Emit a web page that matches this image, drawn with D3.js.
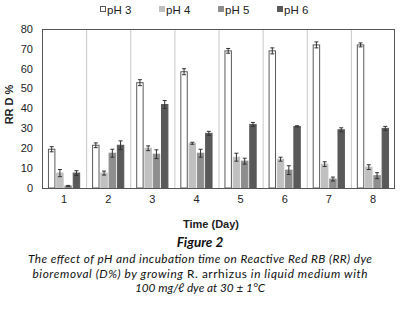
<!DOCTYPE html>
<html>
<head>
<meta charset="utf-8">
<script src="https://cdn.jsdelivr.net/npm/d3@7"></script>
<style>
  body { margin: 0; background: #fff; }
  svg { display: block; }
</style>
</head>
<body>
<svg id="chart" width="400" height="309"></svg>
<script>
// data
const days = ['1', '2', '3', '4', '5', '6', '7', '8'];
const seriesNames = ['pH 3', 'pH 4', 'pH 5', 'pH 6'];
const ph3 = [19.5, 21.5, 53, 58.5, 69, 69, 72, 72];
const ph4 = [7.5, 7.5, 20, 22.5, 15.5, 14.5, 12, 10.5];
const ph5 = [1, 17.5, 17, 17.5, 13.5, 9, 4.5, 6.2];
const ph6 = [7.5, 21.5, 42, 27.5, 32, 31, 29.3, 30];
const ph3Err = [1.3, 1.2, 1.5, 1.5, 1.2, 1.5, 1.5, 1];
const ph4Err = [1.8, 1, 1.2, 0.5, 2, 1, 1.2, 1.2];
const ph5Err = [0.3, 2, 2.2, 2, 1.5, 2.2, 1, 1.5];
const ph6Err = [1.2, 2.2, 2, 1, 1, 0.3, 1, 1];
const yTicks = [0, 10, 20, 30, 40, 50, 60, 70, 80];

const values = [ph3, ph4, ph5, ph6];
const errors = [ph3Err, ph4Err, ph5Err, ph6Err];
const fills = ['#ffffff', '#c0c0c0', '#8e8e8e', '#595959'];
const strokes = ['#5a5a5a', '#c0c0c0', '#8e8e8e', '#595959'];

const svg = d3.select('#chart');
const margin = { left: 42, right: 5, top: 29, bottom: 121 };
const W = 400, H = 309;
const axisFont = 'Liberation Sans, Arial, sans-serif';

const x0 = d3.scaleBand()
    .domain(days)
    .range([margin.left, W - margin.right]);

const groupW = x0.bandwidth() * 0.73;
const x1 = d3.scaleBand()
    .domain(seriesNames)
    .range([(x0.bandwidth() - groupW) / 2, (x0.bandwidth() + groupW) / 2])
    .paddingInner(0.1);

const y = d3.scaleLinear()
    .domain([0, 80])
    .range([H - margin.bottom, margin.top]);

// 分隔线
svg.append('g')
    .selectAll('line')
    .data(days.slice(1))
    .join('line')
    .attr('x1', d => x0(d) + 0.5)
    .attr('x2', d => x0(d) + 0.5)
    .attr('y1', y(80))
    .attr('y2', y(0))
    .attr('stroke', '#c8c8c8')
    .attr('stroke-width', 1);

// y tick labels
svg.append('g')
    .selectAll('text')
    .data(yTicks)
    .join('text')
    .attr('x', margin.left - 9)
    .attr('y', d => y(d))
    .attr('dy', '0.35em')
    .attr('text-anchor', 'end')
    .attr('font-family', axisFont)
    .attr('font-size', 11)
    .attr('fill', '#222')
    .text(d => d);

// x axis labels
const xAxis = d3.axisBottom(x0).tickSize(0).tickPadding(7);
svg.append('g')
    .attr('transform', `translate(0,${y(0)})`)
    .call(xAxis)
    .call(g => g.select('.domain').remove())
    .selectAll('text')
    .attr('font-family', axisFont)
    .attr('font-size', 11)
    .attr('fill', '#222');

// bars
const groups = svg.append('g')
    .selectAll('g')
    .data(days)
    .join('g')
    .attr('transform', d => `translate(${x0(d)},0)`);

const cells = (d, i) => seriesNames.map((s, j) => ({ s, j, v: values[j][i], e: errors[j][i] }));

groups.selectAll('rect')
    .data(cells)
    .join('rect')
    .attr('x', d => x1(d.s) + 0.5)
    .attr('y', d => y(d.v))
    .attr('width', x1.bandwidth() - 1)
    .attr('height', d => y(0) - y(d.v))
    .attr('fill', d => fills[d.j])
    .attr('stroke', d => strokes[d.j])
    .attr('stroke-width', 1);

// error bars
const eb = groups.selectAll('g.err')
    .data(cells)
    .join('g')
    .attr('class', 'err')
    .attr('stroke', '#333')
    .attr('stroke-width', 1);

const cx = d => x1(d.s) + x1.bandwidth() / 2;
eb.append('line')
    .attr('x1', cx).attr('x2', cx)
    .attr('y1', d => y(d.v + d.e)).attr('y2', d => y(Math.max(0, d.v - d.e)));
eb.append('line')
    .attr('x1', d => cx(d) - 2).attr('x2', d => cx(d) + 2)
    .attr('y1', d => y(d.v + d.e)).attr('y2', d => y(d.v + d.e));
eb.append('line')
    .attr('x1', d => cx(d) - 2).attr('x2', d => cx(d) + 2)
    .attr('y1', d => y(Math.max(0, d.v - d.e))).attr('y2', d => y(Math.max(0, d.v - d.e)));

// frame
svg.append('rect')
    .attr('x', margin.left + 0.5)
    .attr('y', y(80) + 0.5)
    .attr('width', W - margin.right - margin.left - 1)
    .attr('height', y(0) - y(80))
    .attr('fill', 'none')
    .attr('stroke', '#555')
    .attr('stroke-width', 1);

// legend
const legend = svg.append('g')
    .selectAll('g')
    .data(seriesNames)
    .join('g')
    .attr('transform', (d, i) => `translate(${100 + i * 59},10)`);

legend.append('rect')
    .attr('x', 0.5).attr('y', -3.5)
    .attr('width', 5).attr('height', 5)
    .attr('fill', (d, i) => fills[i])
    .attr('stroke', (d, i) => strokes[i]);

legend.append('text')
    .attr('x', 7)
    .attr('y', 0)
    .attr('dy', '0.35em')
    .attr('font-family', axisFont)
    .attr('font-size', 11.5)
    .attr('fill', '#222')
    .text(d => d);

// axis titles
svg.append('text')
    .attr('transform', `translate(13,${(y(0) + y(80)) / 2 - 4}) rotate(-90)`)
    .attr('text-anchor', 'middle')
    .attr('font-family', axisFont)
    .attr('font-size', 11)
    .attr('font-weight', 'bold')
    .attr('fill', '#222')
    .text('RR D %');

svg.append('text')
    .attr('x', 211)
    .attr('y', 228)
    .attr('text-anchor', 'middle')
    .attr('font-family', axisFont)
    .attr('font-size', 11)
    .attr('font-weight', 'bold')
    .attr('fill', '#222')
    .text('Time (Day)');

// caption
const capFont = 'Lato, Liberation Sans, sans-serif';
svg.append('text')
    .attr('x', 200)
    .attr('y', 247)
    .attr('text-anchor', 'middle')
    .attr('font-family', capFont)
    .attr('font-size', 13.5)
    .attr('font-weight', 'bold')
    .attr('font-style', 'italic')
    .attr('fill', '#111')
    .text('Figure 2');

const capLines = [
    [{ t: 'The effect of pH and incubation time on Reactive Red RB (RR) dye', i: true }],
    [{ t: 'bioremoval (D%) by growing ', i: true }, { t: 'R. arrhizus', i: false }, { t: ' in liquid medium with', i: true }],
    [{ t: '100 mg/ℓ dye at 30 ± 1°C', i: true }]
];
const capWidths = [344, 335, null];
capLines.forEach((parts, k) => {
    const t = svg.append('text')
        .attr('x', 200)
        .attr('y', 263 + k * 14.5)
        .attr('text-anchor', 'middle')
        .attr('font-family', capFont)
        .attr('font-size', 11.8)
        .attr('fill', '#111');
    if (capWidths[k]) {
        t.attr('textLength', capWidths[k]).attr('lengthAdjust', 'spacing');
    }
    parts.forEach(p => {
        t.append('tspan')
            .attr('font-style', p.i ? 'italic' : 'normal')
            .text(p.t);
    });
});
</script>
</body>
</html>
